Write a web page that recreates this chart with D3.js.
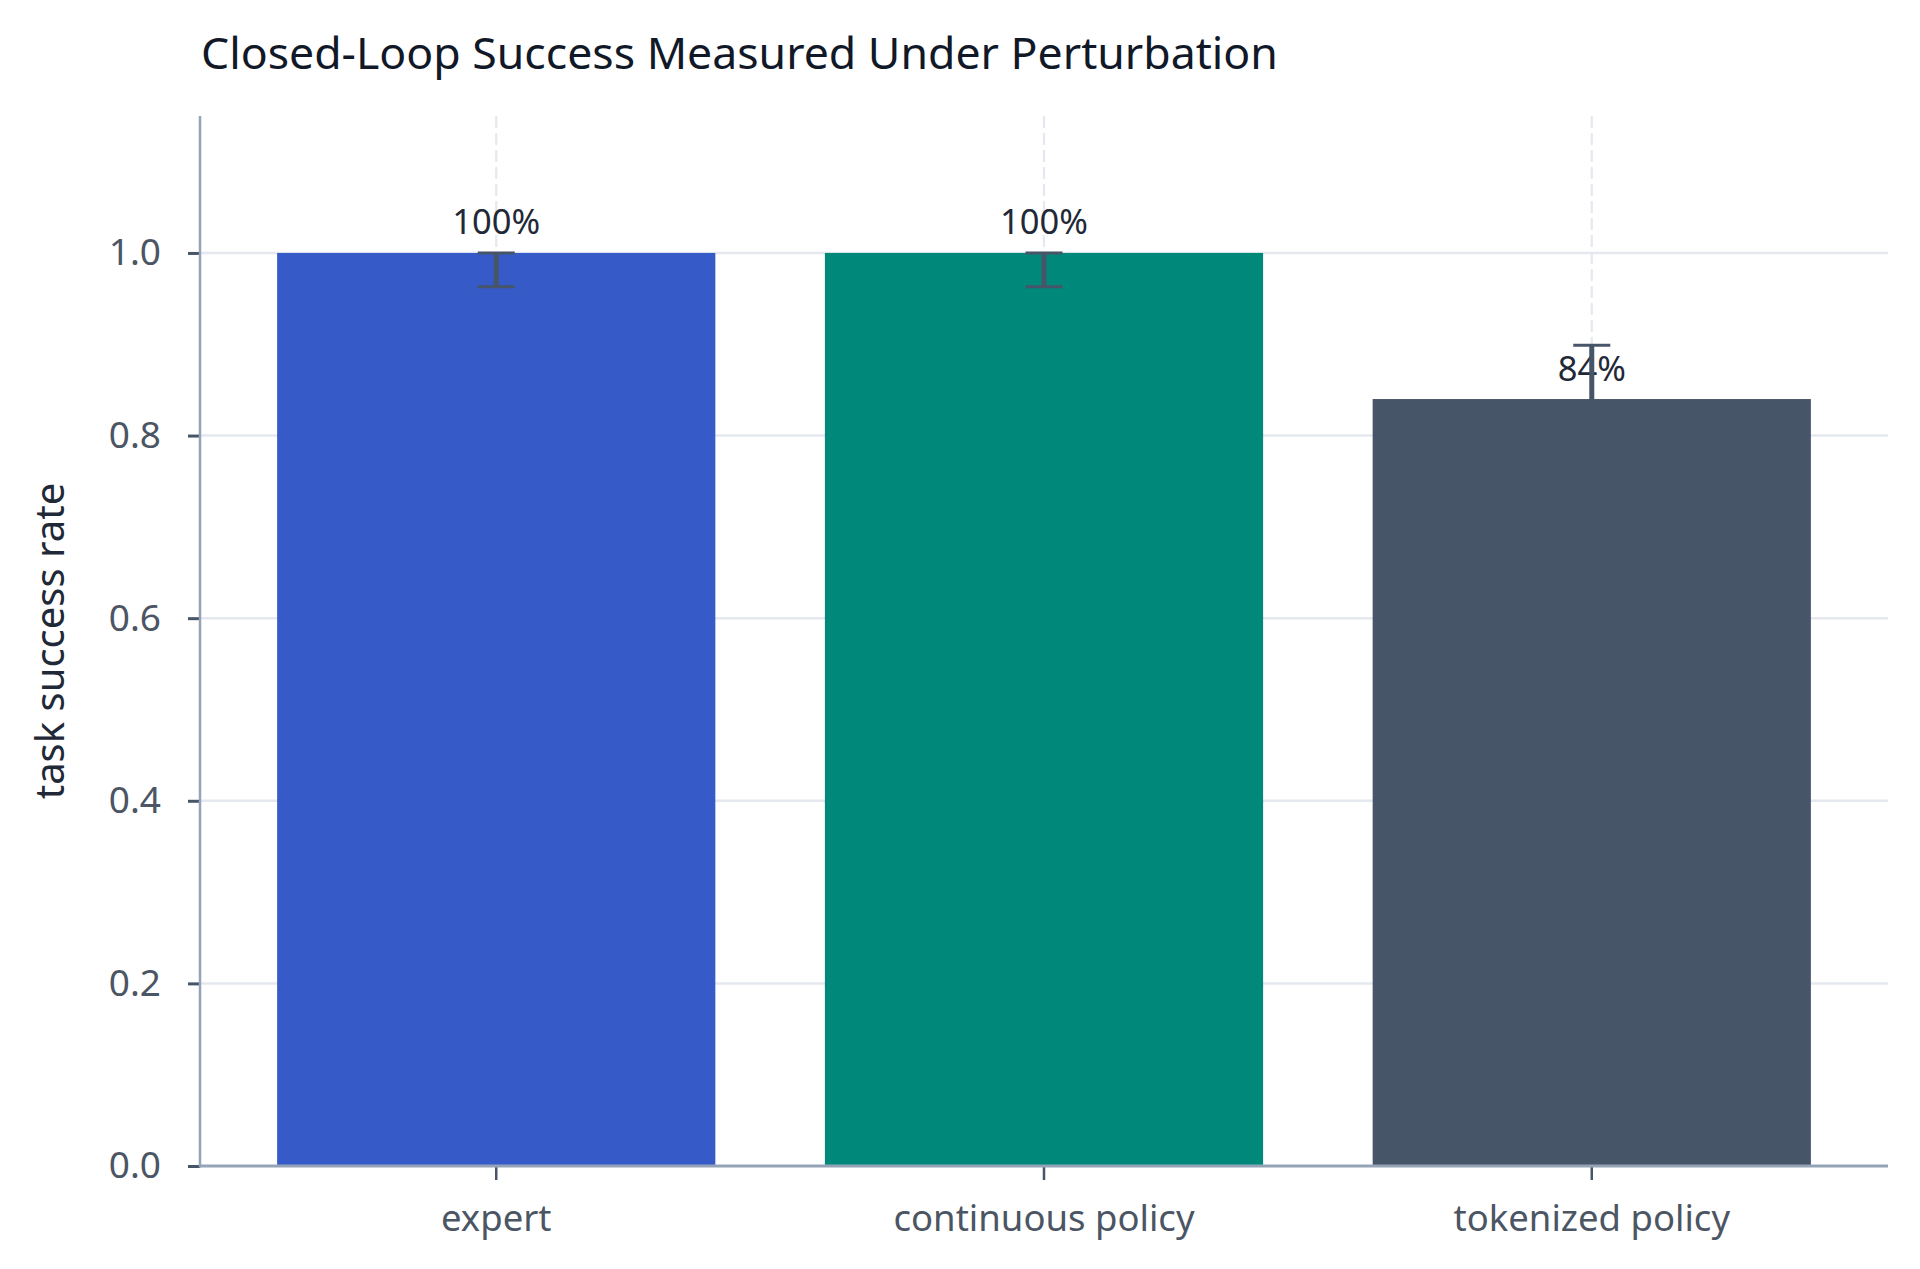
<!DOCTYPE html>
<html>
<head>
<meta charset="utf-8">
<script src="https://cdn.jsdelivr.net/npm/d3@7"></script>
<style>
  html, body { margin: 0; padding: 0; background: #ffffff; }
  svg { display: block; font-family: "Noto Sans", "DejaVu Sans", sans-serif; font-weight: 400; }
</style>
</head>
<body>
<svg id="chart" width="1920" height="1269"></svg>
<script>
const title = "Closed-Loop Success Measured Under Perturbation";
const yAxisLabel = "task success rate";
const categories = ["expert", "continuous policy", "tokenized policy"];
const successRate = [1.0, 1.0, 0.84];
const errLow = [0.963, 0.963, 0.78];
const errHigh = [1.0, 1.0, 0.899];
const valueLabels = ["100%", "100%", "84%"];
const barColors = ["#365AC8", "#00897A", "#475569"];
const yTicks = [0.0, 0.2, 0.4, 0.6, 0.8, 1.0];
const yDomain = [0, 1.15];

const svg = d3.select("#chart");
const W = 1920, H = 1269;
const m = { left: 200, right: 32, top: 116, bottom: 103 };

svg.append("rect").attr("width", W).attr("height", H).attr("fill", "#ffffff");

const x = d3.scaleBand().domain(categories)
  .range([m.left, W - m.right]).paddingInner(0.2).paddingOuter(0.1408);
const y = d3.scaleLinear().domain(yDomain).range([H - m.bottom, m.top]);

const data = categories.map((c, i) => ({
  c, v: successRate[i], lo: errLow[i], hi: errHigh[i], label: valueLabels[i], color: barColors[i]
}));

// horizontal grid
svg.append("g").selectAll("line").data(yTicks.filter(t => t > 0)).join("line")
  .attr("x1", m.left).attr("x2", W - m.right)
  .attr("y1", d => y(d)).attr("y2", d => y(d))
  .attr("stroke", "#e5e8ee").attr("stroke-width", 2.5);

// vertical dashed grid
svg.append("g").selectAll("line").data(categories).join("line")
  .attr("x1", d => x(d) + x.bandwidth() / 2).attr("x2", d => x(d) + x.bandwidth() / 2)
  .attr("y1", m.top).attr("y2", H - m.bottom)
  .attr("stroke", "#e5e8ee").attr("stroke-width", 2.2)
  .attr("stroke-dasharray", "12,5");

// bars
svg.append("g").selectAll("rect").data(data).join("rect")
  .attr("x", d => x(d.c)).attr("width", x.bandwidth())
  .attr("y", d => y(d.v)).attr("height", d => y(0) - y(d.v))
  .attr("fill", d => d.color);

// value labels
svg.append("g").selectAll("text").data(data).join("text")
  .attr("x", d => x(d.c) + x.bandwidth() / 2)
  .attr("y", d => y(d.v) - 18.5)
  .attr("text-anchor", "middle")
  .attr("font-size", 34.5).attr("fill", "#1f2937")
  .text(d => d.label);

// error bars
const eb = svg.append("g").selectAll("g").data(data).join("g")
  .attr("transform", d => `translate(${x(d.c) + x.bandwidth() / 2},0)`);
eb.append("line").attr("x1", 0).attr("x2", 0)
  .attr("y1", d => y(d.lo)).attr("y2", d => y(d.hi))
  .attr("stroke", "#475569").attr("stroke-width", 5);
eb.selectAll("line.cap").data(d => [d.lo, d.hi]).join("line").attr("class", "cap")
  .attr("x1", -18.5).attr("x2", 18.5)
  .attr("y1", d => y(d)).attr("y2", d => y(d))
  .attr("stroke", "#475569").attr("stroke-width", 3);

// y axis
const yAxis = svg.append("g").attr("transform", `translate(${m.left},0)`)
  .call(d3.axisLeft(y).tickValues(yTicks).tickFormat(d3.format(".1f")).tickSize(12).tickPadding(27));
yAxis.select(".domain").remove();
yAxis.selectAll(".tick line").attr("stroke", "#475569").attr("stroke-width", 3);
yAxis.selectAll(".tick text").attr("font-size", 37).attr("fill", "#4b5563")
  .attr("font-family", "Noto Sans");

// x axis
const xAxis = svg.append("g").attr("transform", `translate(0,${H - m.bottom})`)
  .call(d3.axisBottom(x).tickSize(14));
xAxis.select(".domain").remove();
xAxis.selectAll(".tick line").attr("stroke", "#475569").attr("stroke-width", 2.5);
xAxis.selectAll(".tick text").attr("font-size", 36.5).attr("fill", "#4b5563")
  .attr("y", 65).attr("dy", 0).attr("font-family", "Noto Sans");

// spines
svg.append("line").attr("x1", m.left).attr("x2", m.left)
  .attr("y1", m.top).attr("y2", H - m.bottom + 1.5)
  .attr("stroke", "#94a3b8").attr("stroke-width", 2.5);
svg.append("line").attr("x1", m.left).attr("x2", W - m.right)
  .attr("y1", H - m.bottom).attr("y2", H - m.bottom)
  .attr("stroke", "#94a3b8").attr("stroke-width", 3);

// title
svg.append("text").attr("x", 201).attr("y", 69)
  .attr("font-size", 44.6).attr("fill", "#111827").text(title);

// y label
svg.append("text")
  .attr("transform", `translate(64,${(m.top + H - m.bottom) / 2}) rotate(-90)`)
  .attr("text-anchor", "middle").attr("font-size", 40).attr("fill", "#1f2937")
  .text(yAxisLabel);
</script>
</body>
</html>
